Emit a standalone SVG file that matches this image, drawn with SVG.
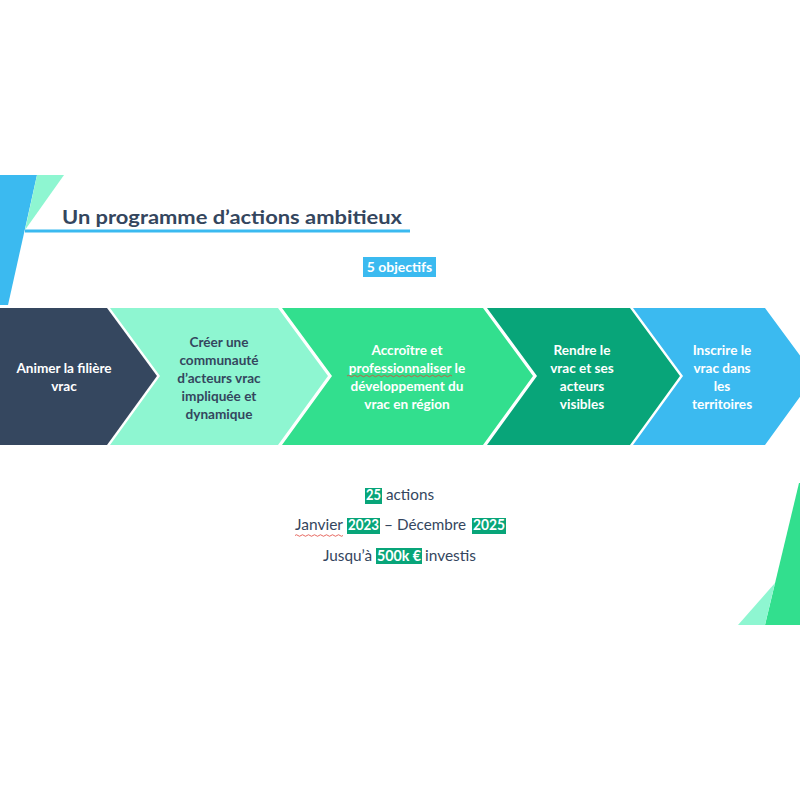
<svg xmlns="http://www.w3.org/2000/svg" width="800" height="800" viewBox="0 0 800 800">
<defs>
<style>
.t{font-family:Lato,"Liberation Sans",sans-serif;font-weight:bold;font-size:13.6px;text-anchor:middle}
.w{fill:#ffffff}
.n{fill:#34465E}
.b{font-family:Lato,"Liberation Sans",sans-serif;font-size:15px;fill:#34465E}
.hb{font-family:Lato,"Liberation Sans",sans-serif;font-size:15px;font-weight:bold;fill:#ffffff}
.wave{fill:none;stroke:#E0443A;stroke-width:0.8}
</style>
</defs>
<rect width="800" height="800" fill="#ffffff"/>
<g id="decor-top-left">
<polygon points="0,175 37,175 8,305 0,305" fill="#3BBAF0"/>
<polygon points="37,175 64,175 25,230" fill="#8EF6D1"/>
<rect x="25" y="229.5" width="385" height="3" fill="#3BBAF0"/>
</g>
<g id="title">
<text x="62" y="224" font-family="Lato,'Liberation Sans',sans-serif" font-weight="bold" font-size="19" fill="#34465E" textLength="340" lengthAdjust="spacingAndGlyphs">Un programme d’actions ambitieux</text>
</g>
<g id="subtitle">
<rect x="363" y="257" width="73" height="20" fill="#3BBAF0"/>
<text x="399.5" y="272" class="t w" style="font-size:14px">5 objectifs</text>
</g>
<g id="step1">
<polygon points="0,308 107,308 157,376 107,445 0,445" fill="#35475F"/>
<text class="t w"><tspan x="64" y="373">Animer la filière</tspan><tspan x="64" y="391">vrac</tspan></text>
</g>
<g id="step2">
<polygon points="110,308 278,308 328,376 278,445 110,445 160,376" fill="#8EF6D1"/>
<text class="t n"><tspan x="219" y="347">Créer une</tspan><tspan x="219" y="365">communauté</tspan><tspan x="219" y="383">d’acteurs vrac</tspan><tspan x="219" y="401">impliquée et</tspan><tspan x="219" y="419">dynamique</tspan></text>
</g>
<g id="step3">
<polygon points="282,308 483,308 533,376 483,445 282,445 332,376" fill="#32DF8E"/>
<text class="t w"><tspan x="407" y="355">Accroître et</tspan><tspan x="407" y="373">professionnaliser le</tspan><tspan x="407" y="391">développement du</tspan><tspan x="407" y="409">vrac en région</tspan></text>
<path class="wave" d="M347,376 q1.5,-1.5 3,0 t3,0 t3,0 t3,0 t3,0 t3,0 t3,0 t3,0 t3,0 t3,0 t3,0 t3,0 t3,0 t3,0 t3,0 t3,0 t3,0 t3,0 t3,0 t3,0 t3,0 t3,0 t3,0 t3,0 t3,0 t3,0 t3,0 t3,0 t3,0 t3,0 t3,0 t3,0 t3,0 t3,0 t3,0"/>
</g>
<g id="step4">
<polygon points="487,308 630,308 680,376 630,445 487,445 537,376" fill="#08A579"/>
<text class="t w"><tspan x="582" y="355">Rendre le</tspan><tspan x="582" y="373">vrac et ses</tspan><tspan x="582" y="391">acteurs</tspan><tspan x="582" y="409">visibles</tspan></text>
</g>
<g id="step5">
<polygon points="633,308 765,308 815,376 765,445 633,445 683,376" fill="#3BBAF0"/>
<text class="t w"><tspan x="722" y="355">Inscrire le</tspan><tspan x="722" y="373">vrac dans</tspan><tspan x="722" y="391">les</tspan><tspan x="722" y="409">territoires</tspan></text>
</g>
<g id="stats">
<rect x="365" y="488" width="17" height="16" fill="#08A579"/>
<text class="hb" x="366" y="500" textLength="15" lengthAdjust="spacingAndGlyphs">25</text>
<text class="b" x="386" y="500" textLength="48" lengthAdjust="spacingAndGlyphs">actions</text>
<text class="b" x="295" y="530" textLength="48" lengthAdjust="spacingAndGlyphs">Janvier</text>
<path class="wave" d="M295,535.5 q1.5,-1.5 3,0 t3,0 t3,0 t3,0 t3,0 t3,0 t3,0 t3,0 t3,0 t3,0 t3,0 t3,0 t3,0 t3,0 t3,0 t3,0"/>
<rect x="347" y="518" width="33" height="16" fill="#08A579"/>
<text class="hb" x="348" y="530" textLength="31" lengthAdjust="spacingAndGlyphs">2023</text>
<text class="b" x="384" y="530" textLength="9" lengthAdjust="spacingAndGlyphs">–</text>
<text class="b" x="397" y="530" textLength="69" lengthAdjust="spacingAndGlyphs">Décembre</text>
<rect x="472" y="518" width="34" height="16" fill="#08A579"/>
<text class="hb" x="473" y="530" textLength="32" lengthAdjust="spacingAndGlyphs">2025</text>
<text class="b" x="323" y="561" textLength="49" lengthAdjust="spacingAndGlyphs">Jusqu’à</text>
<rect x="376" y="548" width="46" height="16" fill="#08A579"/>
<text class="hb" x="377" y="561" textLength="44" lengthAdjust="spacingAndGlyphs">500k €</text>
<text class="b" x="425" y="561" textLength="51" lengthAdjust="spacingAndGlyphs">investis</text>
</g>
<g id="decor-bottom-right">
<polygon points="799,483 800,483 800,625 765,625" fill="#32DF8E"/>
<polygon points="775,583 765,625 738,625" fill="#8EF6D1"/>
</g>
</svg>
